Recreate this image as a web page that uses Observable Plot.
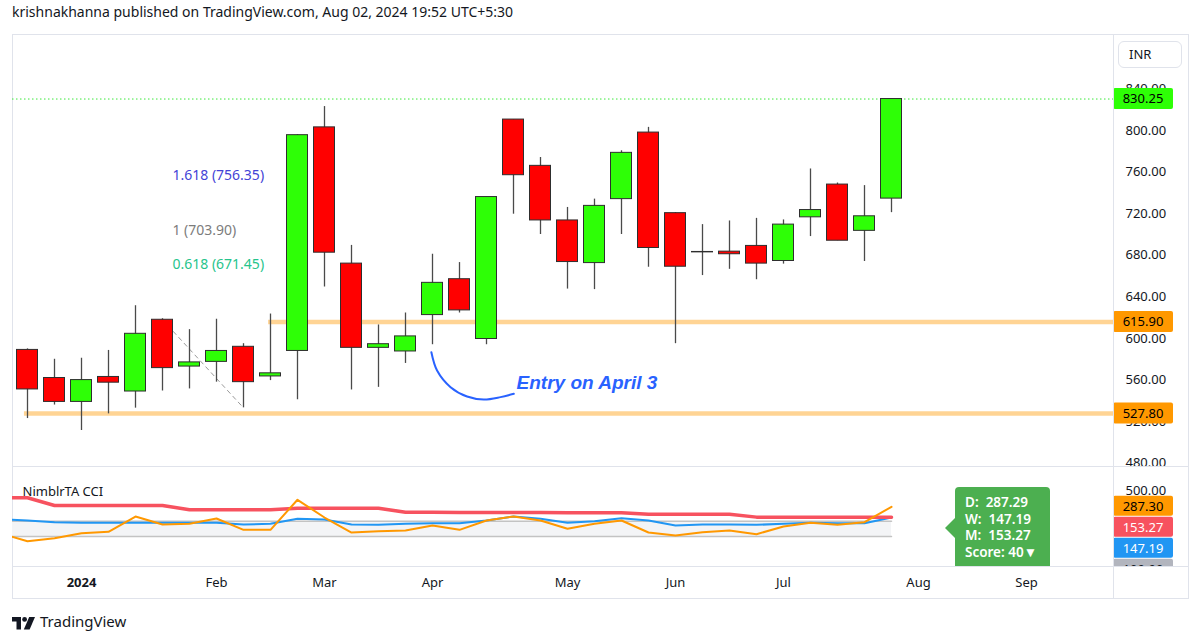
<!DOCTYPE html>
<html>
<head>
<meta charset="utf-8">
<script src="https://cdn.jsdelivr.net/npm/d3@7"></script>
<script src="https://cdn.jsdelivr.net/npm/@observablehq/plot@0.6"></script>
<style>
  html, body { margin: 0; padding: 0; background: #fff; }
  body { font-family: "Noto Sans", sans-serif; color: #131722; }
  #root { position: relative; width: 1200px; height: 642px; overflow: hidden; background: #fff; }
  .abs { position: absolute; }
  .hline { position: absolute; height: 1px; background: #e0e3eb; }
  .vline { position: absolute; width: 1px; background: #e0e3eb; }
  .pane { position: absolute; overflow: hidden; }
  .pane svg { display: block; max-width: none !important; }
</style>
</head>
<body>
<div id="root"></div>
<script>
// ---------------- DATA ----------------
const weeks = ["2023-12-18","2023-12-25","2024-01-01","2024-01-08","2024-01-15","2024-01-22","2024-01-29",
  "2024-02-05","2024-02-12","2024-02-19","2024-02-26","2024-03-04","2024-03-11","2024-03-18","2024-03-25",
  "2024-04-01","2024-04-08","2024-04-15","2024-04-22","2024-04-29","2024-05-06","2024-05-13","2024-05-20",
  "2024-05-27","2024-06-03","2024-06-10","2024-06-17","2024-06-24","2024-07-01","2024-07-08","2024-07-15",
  "2024-07-22","2024-07-29"];
const opens  = [589, 562, 539, 563, 549, 618, 573, 577.5, 592, 563.5, 588, 803, 672, 591, 587.5,
  622.5, 657, 599.5, 810.5, 766, 713.5, 672.5, 734, 798, 720.5, 682.8, 683.5, 689, 674.5, 716.5, 748, 703.5, 734.5];
const highs  = [590, 580, 581, 588.5, 631.5, 619, 608.5, 618.5, 595, 623.5, 796, 823, 689.5, 613, 624.5,
  681, 673, 736, 810.5, 774, 726, 734, 780.5, 803, 721, 709.5, 713, 715.5, 714, 763, 749.5, 747, 830.25];
const lows   = [523, 536, 511.5, 527.5, 533, 549.5, 551.5, 558, 533.3, 559.5, 541, 649.5, 550.5, 553, 576,
  594, 624.5, 594, 719.5, 700, 647.5, 647, 700, 668.5, 595, 660.5, 666.5, 656.5, 671.5, 698, 694, 674, 721];
const closes = [551, 539, 560, 557.5, 604.5, 571.5, 577, 588, 558, 566.5, 795.5, 682.5, 591, 594.5, 602,
  653.5, 627, 736, 757, 713.5, 673.5, 727.5, 778.5, 687, 669, 683.2, 681, 672, 709.5, 723.5, 694, 717.5, 830.25];

// NimblrTA CCI (first point is the week before the first visible candle)
const cciWeeks = ["2023-12-11", ...weeks];
const cciD = [-60, -160, -121, -56, -38, 161, 57, 66, 135, -12, -12, 379, 148, -47, -30, -21, 44, -12,
  109, 161, 109, 1, 66, 109, -47, -86, -43, -21, -69, 31, 79, 53, 87, 287.29];
const cciW = [125, 109, 87, 79, 79, 79, 79, 79, 79, 57, 66, 131, 122, 57, 53, 66, 74, 74,
  109, 161, 131, 79, 100, 139, 109, 44, 57, 57, 53, 66, 79, 74, 74, 147.19];
const cciM = [405, 405, 305, 305, 305, 305, 305, 249, 249, 249, 249, 270, 270, 270, 270, 217, 216, 215,
  214, 213, 212, 211, 210, 210, 191, 191, 191, 191, 153.27, 153.27, 153.27, 153.27, 153.27, 153.27];
const cciScore = 40;
const cciBand = [-100, 100];

// axis ticks
const priceTicks = [480, 520, 560, 600, 640, 680, 720, 760, 800, 840];
const cciTicks = [500];
const timeTickDates = ["2024-01-01","2024-02-05","2024-03-04","2024-04-01","2024-05-06","2024-06-03","2024-07-01","2024-08-05","2024-09-02"];
const timeTickLabels = ["2024","Feb","Mar","Apr","May","Jun","Jul","Aug","Sep"];

// annotations
const lastPrice = 830.25;
const levelPrices = [615.90, 527.80];
const levelStarts = ["2024-02-18T12:00Z", "2023-12-17T05:00Z"];
const fibRatios = ["1.618", "1", "0.618"];
const fibPrices = [756.35, 703.90, 671.45];
const fibColors = ["#4343d6", "#7c7c7c", "#26c48c"];
const fibLabelAt = "2024-01-24T14:00Z";
const fibTrendDates = ["2024-01-22", "2024-02-12"];
const fibTrendPrices = [618, 533.3];
const arcDates = ["2024-03-31T17:00Z","2024-04-02T04:30Z","2024-04-05T16:30Z","2024-04-09T23:00Z","2024-04-14T07:00Z","2024-04-18T15:00Z","2024-04-22T02:00Z"];
const arcPrices = [586.8, 569.2, 553.2, 544.2, 541.3, 543.6, 546.8];
const entryText = "Entry on April 3";
const entryAt = "2024-04-22T19:00Z";
const entryPrice = 557.7;
const priceTags = [
  {value: 830.25, text: "830.25", bg: "#2eff06", fg: "#000"},
  {value: 615.90, text: "615.90", bg: "#ff9800", fg: "#000"},
  {value: 527.80, text: "527.80", bg: "#ff9800", fg: "#000"}
];
const cciTags = [
  {value: 287.30, text: "287.30", bg: "#ff9800", fg: "#000"},
  {value: 153.27, text: "153.27", bg: "#f7525f", fg: "#fff"},
  {value: 147.19, text: "147.19", bg: "#2196f3", fg: "#fff"},
  {value: 100.00, text: "100.00", bg: "#b2b5be", fg: "#131722"}
];

// ---------------- BUILD ----------------
const candles = weeks.map((w, i) => ({date: new Date(w), open: opens[i], high: highs[i], low: lows[i], close: closes[i]}));
const cci = cciWeeks.map((w, i) => ({date: new Date(w), d: cciD[i], w: cciW[i], m: cciM[i]}));
const levels = levelPrices.map((p, i) => ({price: p, start: new Date(levelStarts[i]), end: new Date("2024-10-15")}));
const fibs = fibRatios.map((r, i) => ({price: fibPrices[i], label: `${r} (${fibPrices[i].toFixed(2)})`, color: fibColors[i]}));
const fibTrend = fibTrendDates.map((d, i) => ({date: new Date(d), price: fibTrendPrices[i]}));
const arc = arcDates.map((d, i) => ({date: new Date(d), price: arcPrices[i]}));
const tickMap = new Map(timeTickDates.map((d, i) => [+new Date(d), timeTickLabels[i]]));

const PW = 1176, MR = 75;
const xDomain = [new Date("2023-12-14T02:40Z"), new Date("2024-09-24T13:20Z")];
const halfWeek = 3.5 * 864e5;
const UP = "#2eff06", DOWN = "#ff0000";
const baseStyle = {fontFamily: "'Noto Sans', sans-serif", fontSize: "13px", color: "#131722", background: "transparent", overflow: "visible"};

const root = document.getElementById("root");
function div(cls, css, html) {
  const e = document.createElement("div");
  if (cls) e.className = cls;
  e.style.cssText = css;
  if (html != null) e.innerHTML = html;
  root.appendChild(e);
  return e;
}

// header
div("abs", "left:12px;top:3px;font-size:14px;line-height:18px;white-space:nowrap;color:#131722;",
  "krishnakhanna published on TradingView.com, Aug 02, 2024 19:52 UTC+5:30");

// frame lines
div("hline", "left:12px;top:34px;width:1177px;");
div("hline", "left:12px;top:598px;width:1177px;");
div("vline", "left:12px;top:34px;height:565px;");
div("vline", "left:1188px;top:34px;height:565px;");
div("hline", "left:12px;top:466px;width:1177px;");
div("hline", "left:12px;top:566px;width:1177px;");
div("vline", "left:1113px;top:34px;height:565px;");

function addTags(svg, tags, stack) {
  const y = svg.scale("y");
  const g = d3.select(svg).append("g").attr("font-size", 13).attr("font-family", "'Noto Sans', sans-serif");
  let prev = -Infinity;
  for (const t of tags) {
    let cy = y.apply(t.value);
    if (stack) cy = Math.max(cy, prev + 21);
    prev = cy;
    g.append("rect").attr("x", PW - MR).attr("y", cy - 10.5).attr("width", 60).attr("height", 21).attr("rx", 2).attr("fill", t.bg);
    g.append("text").attr("x", PW - MR + 30).attr("y", cy).attr("dy", "0.36em").attr("text-anchor", "middle").attr("fill", t.fg).text(t.text);
  }
}

// main price pane
const main = Plot.plot({
  width: PW, height: 432, marginLeft: 0, marginRight: MR, marginTop: 0, marginBottom: 0,
  style: baseStyle,
  x: {type: "utc", domain: xDomain, axis: null},
  y: {domain: [476.9, 892.3]},
  color: {type: "identity"},
  marks: [
    Plot.axisY({anchor: "right", ticks: priceTicks, tickSize: 0, tickPadding: 12, tickFormat: d => d.toFixed(2), fontSize: 13}),
    Plot.ruleY([lastPrice], {stroke: "#3be83b", strokeDasharray: "1.5,2.5", strokeWidth: 1}),
    Plot.ruleY(levels, {y: "price", x1: "start", x2: "end", stroke: "#ff9800", strokeOpacity: 0.42, strokeWidth: 4.5, clip: true}),
    Plot.line(fibTrend, {x: "date", y: "price", stroke: "#9a9a9a", strokeWidth: 1, strokeDasharray: "4,4"}),
    Plot.ruleX(candles, {x: "date", y1: "low", y2: "high", stroke: "#4a4a4a", strokeWidth: 1.3}),
    Plot.rect(candles, {
      x1: d => new Date(+d.date - halfWeek), x2: d => new Date(+d.date + halfWeek),
      y1: "open", y2: "close",
      fill: d => d.close >= d.open ? UP : DOWN,
      stroke: "#2e2e2e", strokeWidth: 1, insetLeft: 3, insetRight: 3
    }),
    Plot.text(fibs, {x: () => new Date(fibLabelAt), y: "price", text: "label", fill: "color", textAnchor: "start", fontSize: 14}),
    Plot.line(arc, {x: "date", y: "price", curve: "catmull-rom", stroke: "#2962ff", strokeWidth: 2}),
    Plot.text([entryText], {x: () => new Date(entryAt), y: () => entryPrice, text: d => d, textAnchor: "start",
      fill: "#2962ff", fontSize: 19, fontWeight: "bold", fontStyle: "italic", fontFamily: "'Liberation Sans', sans-serif"})
  ]
});
addTags(main, priceTags, false);
const mainWrap = div("pane", "left:12px;top:34px;width:1176px;height:432px;");
mainWrap.appendChild(main);

// indicator pane + time axis
const ind = Plot.plot({
  width: PW, height: 132, marginLeft: 0, marginRight: MR, marginTop: 0, marginBottom: 32,
  style: baseStyle,
  x: {type: "utc", domain: xDomain},
  y: {domain: [-489.6, 812.5]},
  marks: [
    Plot.areaY(cci, {x: "date", y1: () => cciBand[0], y2: () => cciBand[1], fill: "#f3f4f6", clip: true}),
    Plot.lineY(cci, {x: "date", y: () => cciBand[1], stroke: "#c3c3c3", strokeWidth: 1.5, clip: true}),
    Plot.lineY(cci, {x: "date", y: () => cciBand[0], stroke: "#c3c3c3", strokeWidth: 1.5, clip: true}),
    Plot.line(cci, {x: "date", y: "w", stroke: "#2196f3", strokeWidth: 2, clip: true}),
    Plot.line(cci, {x: "date", y: "m", stroke: "#f7525f", strokeWidth: 3.5, clip: true}),
    Plot.line(cci, {x: "date", y: "d", stroke: "#ff9800", strokeWidth: 2, clip: true}),
    Plot.axisX({ticks: [new Date(timeTickDates[0])], tickFormat: d => tickMap.get(+d), tickSize: 0, tickPadding: 11, fontSize: 13, fontWeight: "bold"}),
    Plot.axisX({ticks: timeTickDates.slice(1).map(d => new Date(d)), tickFormat: d => tickMap.get(+d), tickSize: 0, tickPadding: 11, fontSize: 13}),
    Plot.axisY({anchor: "right", ticks: cciTicks, tickSize: 0, tickPadding: 12, tickFormat: d => d.toFixed(2), fontSize: 13}),
    Plot.text(["NimblrTA CCI"], {frameAnchor: "top-left", dx: 10, dy: 20, textAnchor: "start", fontSize: 13, fill: "#131722"})
  ]
});
// tags clipped to the indicator pane
(function () {
  const y = ind.scale("y");
  const g = d3.select(ind).append("g");
  g.append("clipPath").attr("id", "cciclip").append("rect").attr("x", 0).attr("y", 0).attr("width", PW).attr("height", 100);
  const inner = g.append("g").attr("clip-path", "url(#cciclip)").attr("font-size", 13).attr("font-family", "'Noto Sans', sans-serif");
  let prev = -Infinity;
  for (const t of cciTags) {
    let cy = Math.max(y.apply(t.value), prev + 21);
    prev = cy;
    inner.append("rect").attr("x", PW - MR).attr("y", cy - 10.5).attr("width", 60).attr("height", 20).attr("rx", 2).attr("fill", t.bg);
    inner.append("text").attr("x", PW - MR + 30).attr("y", cy - 0.5).attr("dy", "0.36em").attr("text-anchor", "middle").attr("fill", t.fg).text(t.text);
  }
})();
const indWrap = div("pane", "left:12px;top:466px;width:1176px;height:132px;");
indWrap.appendChild(ind);

// re-draw separator lines above svgs
div("hline", "left:12px;top:566px;width:1177px;");
div("vline", "left:1113px;top:34px;height:565px;");
div("hline", "left:12px;top:466px;width:1177px;");

// value tooltip (green box)
const last = cci[cci.length - 1];
div("abs", "left:945px;top:518px;width:0;height:0;border-top:10px solid transparent;border-bottom:10px solid transparent;border-right:10px solid #4caf50;");
const tip = div("abs", "left:955px;top:487px;width:95px;height:79px;background:#4caf50;border-radius:4px 4px 0 0;color:#fff;font-size:13.5px;font-weight:600;line-height:16.7px;padding:7px 0 0 10px;box-sizing:border-box;white-space:pre;overflow:hidden;",
  `D:  ${last.d.toFixed(2)}\nW:  ${last.w.toFixed(2)}\nM:  ${last.m.toFixed(2)}\nScore: ${cciScore}\u25BC`);

// INR box
div("abs", "left:1118px;top:41px;width:64px;height:27px;border:1px solid #e0e3eb;border-radius:6px;box-sizing:border-box;font-size:13px;line-height:25px;padding-left:10px;", "INR");

// footer
div("abs", "left:12px;top:613px;width:24px;height:13px;",
  `<svg width="24" height="13" viewBox="0 0 24 13"><path d="M0 0H9V12.5H4.5V4.5H0Z" fill="#131722"/><circle cx="12.6" cy="2.4" r="2.4" fill="#131722"/><path d="M17.2 0H23L17.6 12.5H11.8Z" fill="#131722"/></svg>`);
div("abs", "left:40px;top:610px;font-size:15px;line-height:22px;color:#131722;white-space:nowrap;", "TradingView");
</script>
</body>
</html>
